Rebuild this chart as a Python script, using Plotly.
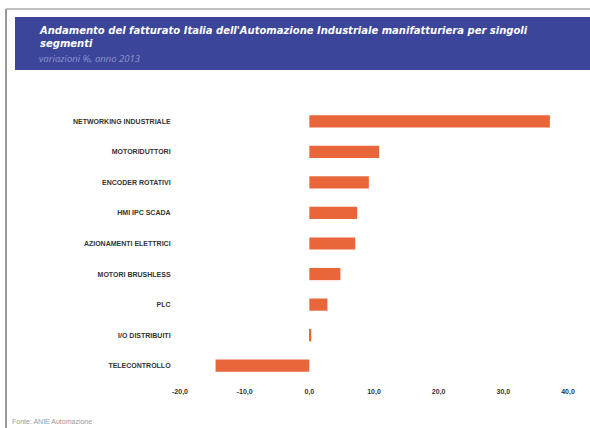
import plotly.graph_objects as go

categories = ["NETWORKING INDUSTRIALE", "MOTORIDUTTORI", "ENCODER ROTATIVI", "HMI IPC SCADA",
              "AZIONAMENTI ELETTRICI", "MOTORI BRUSHLESS", "PLC", "I/O DISTRIBUITI", "TELECONTROLLO"]
values = [37.2, 10.8, 9.2, 7.4, 7.1, 4.8, 2.8, 0.3, -14.5]
tick_vals = [-20, -10, 0, 10, 20, 30, 40]
tick_text = ["-20,0", "-10,0", "0,0", "10,0", "20,0", "30,0", "40,0"]

L, R, T, B = 180, 22, 106, 47
PW, PH = 590 - L - R, 428 - T - B


def px(x):
    return (x - L) / PW


def py(y):
    return (428 - B - y) / PH


fig = go.Figure(go.Bar(
    x=values, y=categories, orientation="h",
    marker=dict(color="#e8663a", line=dict(width=0)),
    width=0.4,
))

fig.update_layout(
    width=590, height=428,
    margin=dict(l=L, r=R, t=T, b=B),
    paper_bgcolor="white", plot_bgcolor="white",
    showlegend=False,
    font=dict(family="Liberation Sans, Arial, sans-serif", color="#333333"),
    xaxis=dict(range=[-20, 40], tickvals=tick_vals, ticktext=tick_text,
               showgrid=False, zeroline=False, showline=False,
               ticks="outside", ticklen=4, tickcolor="white",
               tickfont=dict(size=7, color="#333333", weight="bold",
                             family="Liberation Sans, Arial, sans-serif"),
               fixedrange=True),
    yaxis=dict(categoryorder="array", categoryarray=categories[::-1],
               showgrid=False, zeroline=False, showline=False,
               ticks="outside", ticklen=7, tickcolor="white",
               tickfont=dict(size=7, color="#333333", weight="bold",
                             family="Liberation Sans, Arial, sans-serif"),
               fixedrange=True),
    shapes=[
        dict(type="rect", xref="paper", yref="paper", x0=px(15), x1=px(592),
             y0=py(70), y1=py(17),
             fillcolor="#3b4599", line=dict(width=0), layer="below"),
        dict(type="line", xref="paper", yref="paper", x0=px(6), x1=px(6),
             y0=py(430), y1=py(9), line=dict(color="#777777", width=1.5)),
        dict(type="line", xref="paper", yref="paper", x0=px(6), x1=px(592),
             y0=py(9), y1=py(9), line=dict(color="#aaaaaa", width=1.5)),
    ],
    annotations=[
        dict(text="<b><i>Andamento del fatturato Italia dell'Automazione Industriale manifatturiera per singoli<br>segmenti</i></b>",
             xref="paper", yref="paper", x=px(37), y=py(23),
             xanchor="left", yanchor="top", align="left", showarrow=False,
             font=dict(size=10, color="white", family="DejaVu Sans, Open Sans, sans-serif")),
        dict(text="<i>variazioni %, anno 2013</i>",
             xref="paper", yref="paper", x=px(37), y=py(50),
             xanchor="left", yanchor="top", align="left", showarrow=False,
             font=dict(size=9.5, color="#8a95d0", family="Open Sans, Liberation Sans, sans-serif")),
        dict(text="Fonte: ANIE Automazione",
             xref="paper", yref="paper", x=px(10), y=py(416),
             xanchor="left", yanchor="top", align="left", showarrow=False,
             font=dict(size=7, color="#999999", family="Liberation Sans, sans-serif")),
    ],
)

fig.write_html("out.html")
